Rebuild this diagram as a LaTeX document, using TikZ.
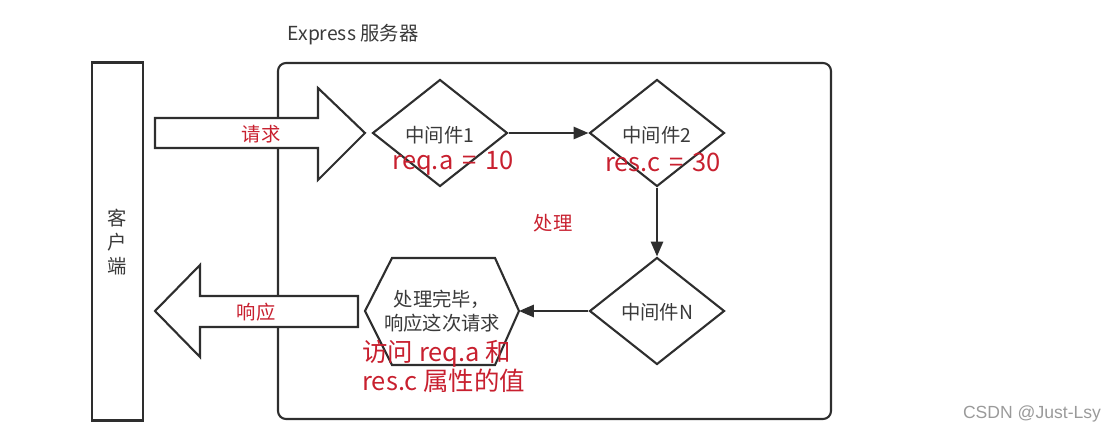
\documentclass[tikz,border=0pt]{standalone}
\usepackage{fontspec}
\setmainfont{Noto Sans CJK SC}
\newfontfamily\wmfont{Liberation Sans}
\usetikzlibrary{shapes.geometric,arrows.meta}
\definecolor{ln}{HTML}{2E2E2E}
\definecolor{rd}{HTML}{C8202F}
\definecolor{tx}{HTML}{3A3A3A}
\definecolor{wmc}{HTML}{9A9A9A}
\tikzset{
  box/.style={draw=ln,line width=1.2pt},
  dia/.style={diamond,draw=ln,line width=1.2pt,fill=white,inner sep=0pt,minimum width=2.7cm,minimum height=2.14cm},
  blk/.style={draw=ln,line width=1.2pt,fill=white},
  conn/.style={draw=ln,line width=1.2pt,-{Triangle[length=8.5pt,width=7pt]}},
  lbl/.style={text=tx,font=\fontsize{11}{14}\selectfont,inner sep=0pt},
  rlbl/.style={text=rd,font=\fontsize{11}{14}\selectfont,inner sep=0pt},
  big/.style={text=rd,font=\fontsize{14.5}{15.4}\selectfont,inner sep=0pt},
}
\begin{document}
\begin{tikzpicture}[x=0.02cm,y=-0.02cm]
\useasboundingbox (0,0) rectangle (1118,438);
% client
\node[box,minimum width=1.02cm,minimum height=7.16cm,inner sep=0pt] (client) at (117.5,241.5) {};
\node[lbl,align=center,font=\fontsize{11}{13.6}\selectfont] (clienttxt) at (117,242) {客\\户\\端};
% server
\draw[box,rounded corners=0.16cm] (278,63) rectangle (831,419);
\node[lbl] (server) at (353,35) {Express 服务器};
% request arrow
\draw[blk] (155,118) -- (318,118) -- (318,88) -- (365,133) -- (318,180) -- (318,148) -- (155,148) -- cycle;
\node[rlbl] (req) at (261,134) {请求};
% response arrow
\draw[blk] (358,296) -- (200,296) -- (200,265) -- (155,311) -- (200,357) -- (200,327) -- (358,327) -- cycle;
\node[rlbl] (resp) at (256,312) {响应};
% middleware
\node[dia] (m1) at (440,133) {};
\node[lbl] (m1t) at (440,135) {中间件1};
\node[big] (m1r) at (453,163) {req.a\hspace{0.35em}=\hspace{0.35em}10};
\node[dia] (m2) at (657,133) {};
\node[lbl] (m2t) at (657,135) {中间件2};
\node[big] (m2r) at (663,162) {res.c\hspace{0.35em}=\hspace{0.35em}30};
\node[dia] (mn) at (657,311) {};
\node[lbl] (mnt) at (657,312) {中间件N};
\node[rlbl] (proc) at (553,223) {处理};
% hexagon
\draw[box,fill=white] (365,311) -- (392,258) -- (495,258) -- (519,311) -- (495,365) -- (392,365) -- cycle;
\coordinate (hexR) at (519,311);
\node[lbl,align=center] (hext) at (442,311) {处理完毕，\\响应这次请求};
\node[big,align=left,anchor=west] (hexr) at (362,366) {访问 req.a 和\\res.c 属性的值};
% connectors
\draw[conn] (m1.east) -- (m2.west);
\draw[conn] (m2.south) -- (mn.north);
\draw[conn] (mn.west) -- (hexR);
% watermark
\node[text=wmc,font=\wmfont\fontsize{10}{12}\selectfont,inner sep=0pt] (wm) at (1032,414) {CSDN @Just-Lsy};
\end{tikzpicture}
\end{document}
